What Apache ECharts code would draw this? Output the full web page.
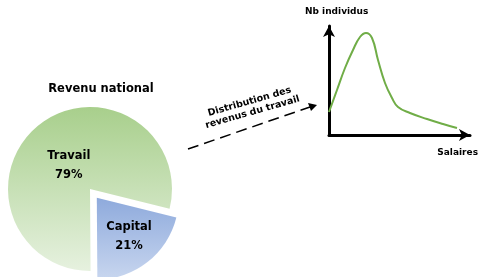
<!DOCTYPE html>
<html>
<head>
<meta charset="utf-8">
<script src="https://cdn.jsdelivr.net/npm/echarts@6/dist/echarts.min.js"></script>
<style>
  html, body { margin: 0; padding: 0; background: #fff; }
  #chart { width: 485px; height: 277px; }
</style>
</head>
<body>
<div id="chart"></div>
<script>
// part du revenu national
const parts = ['Capital', 'Travail']
const partValues = [21, 79]

// distribution des revenus du travail (unites)
const salaires = [0, 8, 16, 24, 31, 37, 43, 49, 56, 63, 69, 81, 98, 114, 128]
const individus = [23, 45, 67, 85, 98, 102, 97, 75, 52, 37, 28, 22, 16, 11, 7]

const FONT = 'DejaVu Sans'
const chart = echarts.init(document.getElementById('chart'))

// degrade vertical pour chaque part
const grad = (top, bottom) => new echarts.graphic.LinearGradient(0, 0, 0, 1, [
  { offset: 0, color: top },
  { offset: 1, color: bottom }
])

const sliceColors = {
  Capital: grad('#8eaadc', '#c8d6ef'),
  Travail: grad('#a8cf8c', '#e6f1df')
}
// decalage des etiquettes dans les parts
const labelOffset = {
  Capital: [5, 4],
  Travail: [6, 11]
}

const option = {
  animation: false,
  title: {
    text: 'Revenu national',
    left: 96,
    top: 78,
    textAlign: 'center',
    textStyle: { fontFamily: FONT, fontWeight: 'bold', fontSize: 11.5, color: '#000' }
  },
  grid: { left: 329, top: 26, width: 141, height: 109 },
  xAxis: {
    type: 'value',
    min: 0,
    max: 141,
    name: 'Salaires',
    nameLocation: 'end',
    nameGap: 8,
    nameTextStyle: {
      fontFamily: FONT, fontWeight: 'bold', fontSize: 9, color: '#000',
      align: 'right', verticalAlign: 'top', padding: [13, 0, 0, 0]
    },
    axisLine: { show: true, symbol: ['none', 'arrow'], symbolSize: [9, 11], lineStyle: { color: '#000', width: 3 } },
    axisTick: { show: false },
    axisLabel: { show: false },
    splitLine: { show: false }
  },
  yAxis: {
    type: 'value',
    min: 0,
    max: 109,
    name: 'Nb individus',
    nameLocation: 'end',
    nameGap: 14,
    nameTextStyle: {
      fontFamily: FONT, fontWeight: 'bold', fontSize: 9, color: '#000',
      align: 'left', verticalAlign: 'middle', padding: [0, 0, 0, -24]
    },
    axisLine: { show: true, symbol: ['none', 'arrow'], symbolSize: [9, 11], lineStyle: { color: '#000', width: 3 } },
    axisTick: { show: false },
    axisLabel: { show: false },
    splitLine: { show: false }
  },
  series: [
    {
      type: 'pie',
      center: [90, 189],
      radius: 82,
      startAngle: -14,
      selectedMode: 'single',
      selectedOffset: 11,
      label: {
        position: 'inner',
        fontFamily: FONT,
        fontWeight: 'bold',
        fontSize: 11.5,
        lineHeight: 19,
        color: '#000',
        formatter: p => p.name + '\n' + p.value + '%'
      },
      labelLine: { show: false },
      emphasis: { disabled: true },
      data: parts.map((name, i) => ({
        name: name,
        value: partValues[i],
        selected: name === 'Capital',
        itemStyle: { color: sliceColors[name] },
        label: { offset: labelOffset[name] },
        select: { label: { offset: labelOffset[name] } }
      }))
    },
    {
      type: 'line',
      smooth: 0.45,
      showSymbol: false,
      lineStyle: { color: '#70ad47', width: 2 },
      data: salaires.map((s, i) => [s, individus[i]])
    }
  ],
  graphic: [
    {
      type: 'line',
      shape: { x1: 188, y1: 149, x2: 310, y2: 107 },
      style: { stroke: '#000', lineWidth: 1.5, lineDash: [11, 6] }
    },
    {
      type: 'polygon',
      shape: { points: [[317, 105], [308, 103], [311, 111]] },
      style: { fill: '#000' }
    },
    {
      type: 'text',
      x: 251,
      y: 107,
      rotation: 16 * Math.PI / 180,
      style: {
        text: 'Distribution des\nrevenus du travail',
        fontFamily: FONT,
        fontWeight: 'bold',
        fontSize: 9.5,
        lineHeight: 11,
        fill: '#000',
        align: 'center',
        verticalAlign: 'middle'
      }
    }
  ]
}

chart.setOption(option)
</script>
</body>
</html>
